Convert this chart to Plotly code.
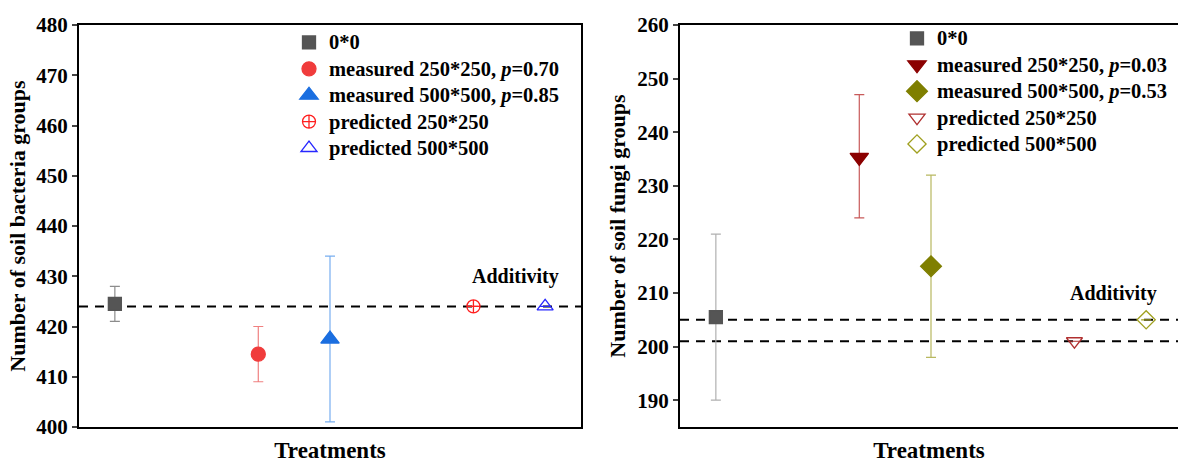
import plotly.graph_objects as go

# ---------------- data ----------------
treat_pos = [0.5, 2.5, 3.5, 5.5, 6.5]  # treatment order on x

# bacteria (left panel)
bac_names = ["0*0", "measured 250*250, <i>p</i>=0.70", "measured 500*500, <i>p</i>=0.85",
             "predicted 250*250", "predicted 500*500"]
bac_mean = [424.5, 414.5, 417.5, 424.0, 424.0]
bac_low = [421.0, 409.0, 401.0, 424.0, 424.0]
bac_high = [428.0, 420.0, 434.0, 424.0, 424.0]
bac_additivity = [424.0]

# fungi (right panel)
fun_names = ["0*0", "measured 250*250, <i>p</i>=0.03", "measured 500*500, <i>p</i>=0.53",
             "predicted 250*250", "predicted 500*500"]
fun_mean = [205.5, 235.3, 215.0, 201.0, 205.0]
fun_low = [190.0, 224.0, 198.0, 201.0, 205.0]
fun_high = [221.0, 247.0, 232.0, 201.0, 205.0]
fun_additivity = [205.0, 201.0]

FONT = "Liberation Serif, Times New Roman, serif"

bac_style = [
    dict(symbol="square", color="#555555", size=13, ecolor="#8c8c8c"),
    dict(symbol="circle", color="#f03c3c", size=14, ecolor="#f08080"),
    dict(symbol="triangle-up", color="#1a6ee0", size=16, ecolor="#78aef0"),
    dict(symbol="circle-cross-open", color="#ff2020", size=13, ecolor="#ff2020"),
    dict(symbol="triangle-up-open", color="#2828ff", size=14, ecolor="#2828ff"),
]
fun_style = [
    dict(symbol="square", color="#555555", size=13, ecolor="#b0b0b0"),
    dict(symbol="triangle-down", color="#8b0000", size=16, ecolor="#c85a5a"),
    dict(symbol="diamond", color="#7f7f00", size=16, ecolor="#b8b860"),
    dict(symbol="triangle-down-open", color="#b03030", size=14, ecolor="#b03030"),
    dict(symbol="diamond-open", color="#a0a020", size=14, ecolor="#a0a020"),
]

fig = go.Figure()

def big(txt):
    return '<span style="font-size:20.5px">' + txt + '</span>'

def add_panel(names, mean, low, high, styles, xa, ya, legend, additivity, xmax):
    for v in additivity:
        fig.add_trace(go.Scatter(x=[0, xmax], y=[v, v], mode="lines",
                                 line=dict(color="black", width=2, dash="9px,7px"),
                                 showlegend=False, hoverinfo="skip", xaxis=xa, yaxis=ya))
    for i, n in enumerate(names):
        s = styles[i]
        fig.add_trace(go.Scatter(
            x=[treat_pos[i]], y=[mean[i]], mode="markers", name=big(n),
            marker=dict(symbol=s["symbol"], color=s["color"], size=s["size"],
                        line=dict(color=s["color"], width=1.3)),
            error_y=dict(type="data", symmetric=False,
                         array=[high[i] - mean[i]], arrayminus=[mean[i] - low[i]],
                         color=s["ecolor"], thickness=1.2, width=5),
            xaxis=xa, yaxis=ya, legend=legend))

add_panel(bac_names, bac_mean, bac_low, bac_high, bac_style, "x", "y", "legend", bac_additivity, 7)
add_panel(fun_names, fun_mean, fun_low, fun_high, fun_style, "x2", "y2", "legend2", fun_additivity, 7)

W, H = 1178, 463
axis_common = dict(showgrid=False, zeroline=False, linecolor="black", linewidth=2, automargin=False)

fig.update_layout(
    width=W, height=H,
    margin=dict(l=0, r=0, t=25, b=36),
    paper_bgcolor="white", plot_bgcolor="white",
    font=dict(family=FONT, color="black"),
    xaxis=dict(domain=[79 / W, 581 / W], range=[0, 7], showticklabels=False, ticks="",
               mirror=True, showline=True,
               title=dict(text="<b>Treatments</b>", font=dict(size=23), standoff=16),
               **axis_common),
    yaxis=dict(domain=[0, 1], range=[400, 480], dtick=10, ticks="outside", ticklen=5,
               tickwidth=2, mirror=True, showline=True,
               tickfont=dict(size=21, weight="bold"),
               title=dict(text="<b>Number of soil bacteria groups</b>", font=dict(size=22), standoff=5),
               **axis_common),
    xaxis2=dict(domain=[680 / W, 1.0], range=[0, 7 * (W - 680) / 502], anchor="y2",
                showticklabels=False, ticks="", mirror=True, showline=True,
                title=dict(text="<b>Treatments</b>", font=dict(size=23), standoff=16),
                **axis_common),
    yaxis2=dict(domain=[0, 1], range=[185, 260], dtick=10, anchor="x2", ticks="outside",
                ticklen=5, tickwidth=2, mirror=False, showline=True,
                tickfont=dict(size=21, weight="bold"),
                title=dict(text="<b>Number of soil fungi groups</b>", font=dict(size=22), standoff=6),
                **axis_common),
    legend=dict(x=289 / W, xref="paper", y=1.002, yanchor="top", bgcolor="rgba(0,0,0,0)",
                font=dict(size=18, weight="bold"), tracegroupgap=0, itemwidth=30),
    legend2=dict(x=897 / W, xref="paper", y=1.012, yanchor="top", bgcolor="rgba(0,0,0,0)",
                 font=dict(size=18, weight="bold"), tracegroupgap=0, itemwidth=30),
    annotations=[
        dict(text="<b>Additivity</b>", x=6.08, y=bac_additivity[0] + 6, xref="x", yref="y",
             showarrow=False, font=dict(size=20)),
        dict(text="<b>Additivity</b>", x=6.05, y=fun_additivity[0] + 5, xref="x2", yref="y2",
             showarrow=False, font=dict(size=20)),
    ],
)

fig.write_html("out.html", config={"displayModeBar": False},
               post_script="document.body.style.margin='0';")
